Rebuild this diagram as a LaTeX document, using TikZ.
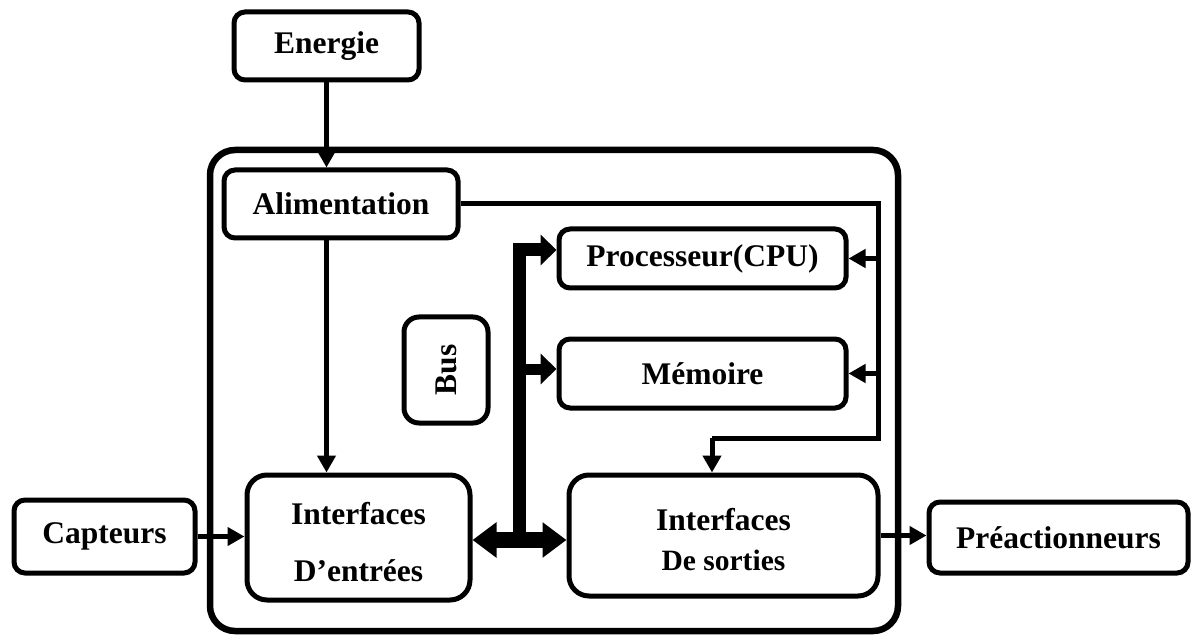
\documentclass[tikz,border=0pt]{standalone}
\usepackage{fontspec}
\setmainfont{Liberation Serif}
\usetikzlibrary{arrows.meta}

\tikzset{
  box/.style={draw, line width=5pt, rounded corners=11pt, inner sep=0pt,
    font=\fontsize{31.5}{36}\selectfont\bfseries, align=center},
  bigbox/.style={box, rounded corners=20pt},
  wire/.style={line width=5pt},
  arr/.style={wire, -{Triangle[length=17pt,width=18pt]}},
  busline/.style={line width=13pt, line join=miter},
  bushead/.style={-{Triangle[length=16pt,width=30pt]}},
}
% lower a line of text without changing its nominal size
\newcommand{\lowerline}[2]{\raisebox{-#1}[\height][\depth]{#2}}

\begin{document}
\begin{tikzpicture}[x=1pt,y=-1pt]
\useasboundingbox (0,0) rectangle (1194,636);

% automate enclosure
\node[draw, line width=6.5pt, rounded corners=25pt, minimum width=688pt,
      minimum height=481pt] (plc) at (554,390.5) {};

% blocks
\node[box, minimum width=185pt, minimum height=68pt] (ener) at (326.5,46) {Energie};
\node[box, minimum width=234pt, minimum height=68pt] (alim) at (341,204) {Alimentation};
\node[box, minimum width=287pt, minimum height=59pt] (cpu) at (702.5,258.5) {Processeur(CPU)};
\node[box, minimum width=287pt, minimum height=69pt] (mem) at (702.5,373.5) {Mémoire};
\node[box, rounded corners=15pt, rotate=90, minimum width=106pt, minimum height=84pt] (bus) at (446,370) {Bus};
\node[bigbox, minimum width=223pt, minimum height=125pt,
      font=\fontsize{31.5}{57}\selectfont\bfseries] (ein) at (358.5,537.5)
      {\lowerline{5pt}{Interfaces}\\\lowerline{5pt}{D’entrées}};
\node[bigbox, minimum width=309pt, minimum height=121pt,
      font=\fontsize{31.5}{40}\selectfont\bfseries] (eout) at (723.5,535.5)
      {\lowerline{4pt}{Interfaces}\\{\fontsize{29.5}{40}\selectfont\lowerline{4pt}{De sorties}}};
\node[box, minimum width=181pt, minimum height=73pt] (capt) at (104.5,536.5) {Capteurs};
\node[box, minimum width=259pt, minimum height=71pt] (pre) at (1058.5,537.5) {Préactionneurs};

% power distribution
\draw[arr] (ener.south) -- (ener.south |- alim.north);
\draw[arr] (alim.south -| ener.south) -- (ein.north -| ener.south);
\coordinate (rt) at (878,204);
\coordinate (rb) at (878,438);
\coordinate (rs) at (712,438);
\draw[wire, line join=miter] (alim.east) -- (rt) -- (rb) -- (rs);
\draw[arr] (rs) -- (rs |- eout.north);
\draw[arr] (cpu.east -| rt) -- (cpu.east);
\draw[arr] (mem.east -| rt) -- (mem.east);

% signal flow
\draw[arr] (capt.east) -- (capt.east -| ein.west);
\draw[arr] (eout.east) -- (eout.east -| pre.west);

% bus
\coordinate (bt) at (519,250);
\coordinate (bm) at (519,369);
\coordinate (bj) at (519,540);
\draw[busline, bushead] (bj) -- (bt) -- (bt -| cpu.west);
\draw[line width=11pt, bushead] (bm) -- (bm -| mem.west);
\draw[line width=16pt, {Triangle[length=24pt,width=34pt]}-{Triangle[length=24pt,width=34pt]}]
  (bj -| ein.east) -- (bj -| eout.west);
\end{tikzpicture}
\end{document}
